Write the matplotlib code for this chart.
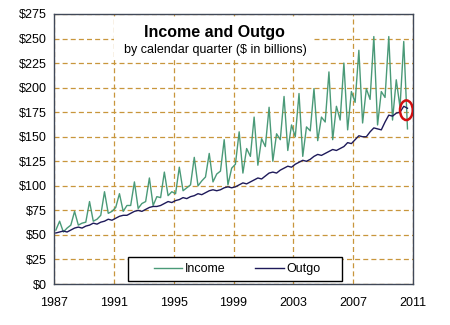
import matplotlib
matplotlib.use("Agg")
import matplotlib.pyplot as plt
import numpy as np
from matplotlib.patches import Rectangle, Ellipse

plt.rcParams['font.family'] = ['Liberation Sans', 'DejaVu Sans']

# quarterly figures, $ billions (Q1..Q4 per row, 1987 - 2010Q3)
income = [
    55, 64, 53, 57,
    60, 74, 60, 62,
    63, 84, 64, 66,
    70, 94, 72, 74,
    78, 92, 74, 80,
    80, 104, 77, 82,
    84, 108, 80, 89,
    88, 114, 90, 94,
    92, 119, 95, 98,
    101, 129, 100, 105,
    109, 133, 104, 112,
    115, 147, 101, 118,
    122, 155, 113, 138,
    130, 170, 121, 148,
    140, 180, 125, 153,
    147, 191, 136, 162,
    150, 194, 130, 160,
    156, 199, 146, 170,
    165, 216, 147, 181,
    167, 225, 157, 196,
    185, 238, 164, 199,
    188, 252, 162, 196,
    190, 252, 167, 208,
    180, 247, 158,
]
outgo = [
    52, 53, 54, 53,
    55, 57, 58, 57,
    59, 60, 62, 61,
    63, 64, 66, 65,
    67, 69, 70, 70,
    72, 74, 75, 74,
    76, 78, 79, 79,
    80, 82, 84, 83,
    85, 86, 88, 87,
    89, 90, 92, 91,
    93, 95, 96, 95,
    96, 98, 99, 98,
    99, 101, 103, 102,
    104, 106, 108, 107,
    110, 113, 114, 113,
    116, 118, 120, 119,
    122, 124, 126, 125,
    127, 130, 132, 131,
    133, 135, 137, 136,
    138, 140, 144, 143,
    147, 151, 150, 150,
    155, 159, 158, 157,
    165, 172, 171, 174,
    175, 181, 179,
]
first_year = 1987
year_ticks = [1987, 1991, 1995, 1999, 2003, 2007, 2011]
dollar_ticks = list(range(0, 276, 25))

# plot each quarter at its midpoint
t = first_year + 0.125 + 0.25 * np.arange(len(income))

fig = plt.figure(figsize=(4.5, 3.25), dpi=100)
ax = fig.add_axes([0.12, 0.126, 0.798, 0.831])

grid_col = '#C8963C'
ax.set_axisbelow(True)
ax.grid(True, color=grid_col, linestyle=(0, (4, 2.5)), linewidth=0.9)

ax.plot(t, income, color='#4A9A78', linewidth=1.0, label='Income', zorder=3)
ax.plot(t, outgo, color='#1E1A5A', linewidth=1.0, label='Outgo', zorder=4)

# white panel behind the heading
ax.add_patch(Rectangle((1991, 230), 13.3, 42, facecolor='white',
                       edgecolor='none', zorder=1))
ax.text(0.446, 0.931, 'Income and Outgo', transform=ax.transAxes,
        ha='center', va='center', fontsize=11.5, fontweight='bold', zorder=5)
ax.text(0.448, 0.867, 'by calendar quarter ($ in billions)', transform=ax.transAxes,
        ha='center', va='center', fontsize=9, zorder=5)

# highlight the latest quarters
ax.add_patch(Ellipse((2010.55, 177), 0.85, 20, facecolor='none',
                     edgecolor='#D01010', linewidth=1.8, zorder=6))

ax.set_xlim(1987, 2011)
ax.set_ylim(0, 275)
ax.set_xticks(year_ticks)
ax.set_yticks(dollar_ticks)
ax.set_yticklabels(['$%d' % v for v in dollar_ticks])
ax.tick_params(length=0, labelsize=9)
ax.tick_params(axis='x', pad=9)
ax.tick_params(axis='y', pad=5)

for s in ax.spines.values():
    s.set_color('#404858')
    s.set_linewidth(1.0)

# legend box, entries centred inside it
ax.add_patch(Rectangle((0.206, 0.011), 0.596, 0.089, transform=ax.transAxes,
                       facecolor='white', edgecolor='black', linewidth=1.0,
                       zorder=6))
leg = ax.legend(loc='center', bbox_to_anchor=(0.51, 0.056), ncol=2,
                frameon=False, fontsize=9, handlelength=2.3,
                handletextpad=0.2, columnspacing=2.4)
leg.set_zorder(7)

fig.savefig('out.png', dpi=100)
